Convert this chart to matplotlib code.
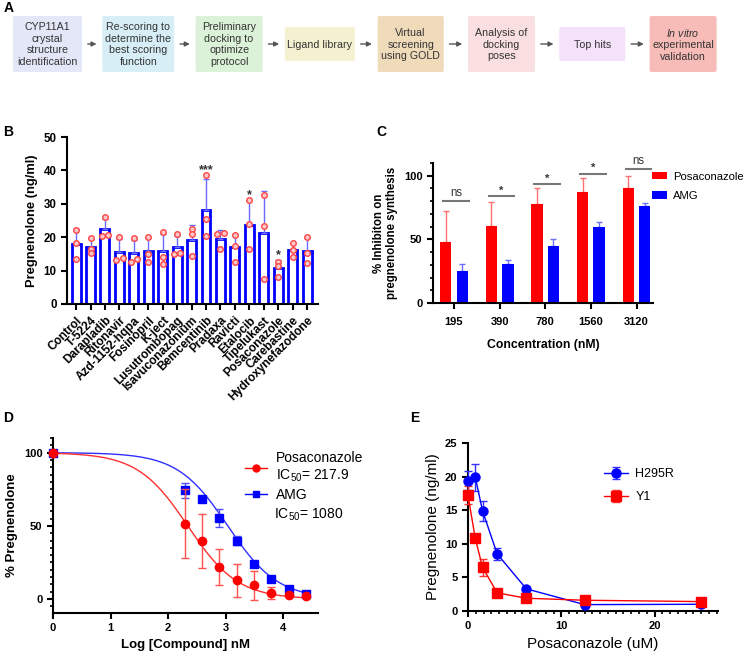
import matplotlib.pyplot as plt
import numpy as np
from matplotlib.patches import FancyBboxPatch
from matplotlib.ticker import MultipleLocator, AutoMinorLocator

plt.rcParams['font.family'] = ['Liberation Sans', 'DejaVu Sans']
plt.rcParams['mathtext.fontset'] = 'custom'
plt.rcParams['mathtext.rm'] = 'Liberation Sans'
plt.rcParams['mathtext.it'] = 'Liberation Sans:italic'

# ---- A: workflow
steps = ['CYP11A1\ncrystal\nstructure\nidentification',
         'Re-scoring to\ndetermine the\nbest scoring\nfunction',
         'Preliminary\ndocking to\noptimize\nprotocol',
         'Ligand library',
         'Virtual\nscreening\nusing GOLD',
         'Analysis of\ndocking\nposes',
         'Top hits',
         '$\\it{In\\ vitro}$\nexperimental\nvalidation']
step_colors = ['#e4e7f8', '#d8eef7', '#dcf2d8', '#f5f1d0',
               '#efdbb9', '#f9dfdf', '#f4e1fa', '#f8bcb8']

# ---- B: screening, replicate values (ng/ml)
drugs = ['Control', 'T-5224', 'Darapladib', 'Ritonavir', 'Azd-1152-hqpa',
         'Fosinopril', 'K-ject', 'Lusutrombopag', 'Isavuconazonium',
         'Bemcentinib', 'Pradaxa', 'Ravicti', 'Etalocib', 'Tipelukast',
         'Posaconazole', 'Carebastine', 'Hydroxynefazodone']
reps = [[22.2, 18.3, 13.4], [19.8, 16.5, 15.3], [26.0, 20.5, 20.7],
        [20.0, 13.2, 13.9], [19.7, 12.6, 13.4], [20.0, 14.9, 12.5],
        [21.6, 14.2, 12.1], [20.9, 15.1, 15.3], [22.4, 21.0, 14.4],
        [38.6, 25.4, 20.4], [21.0, 21.3, 16.5], [20.7, 17.5, 12.6],
        [31.0, 24.0, 16.4], [32.6, 23.5, 7.5], [12.7, 11.4, 8.2],
        [18.4, 16.2, 14.2], [20.0, 15.2, 12.2]]
sig_b = {'Bemcentinib': '***', 'Etalocib': '*', 'Posaconazole': '*'}

# ---- C: % inhibition
conc = ['195', '390', '780', '1560', '3120']
posa_inh = [48, 60.5, 78, 87.5, 90.5]
posa_inh_err = [24, 18.5, 12.5, 11, 9.5]
amg_inh = [25.5, 31, 44.5, 60, 76]
amg_inh_err = [5, 2.5, 6, 3.5, 2.5]
sig_c = ['ns', '*', '*', '*', 'ns']
sig_c_y = [80, 84, 93.5, 101.5, 105.5]

# ---- D: dose response
log_conc = [0, 2.29, 2.59, 2.89, 3.19, 3.49, 3.79, 4.09, 4.39]
posa_pct = [100, 51.6, 39.5, 22.0, 12.7, 9.3, 4.3, 2.7, 1.8]
posa_sd = [0, 23.5, 18.5, 12.5, 11.2, 9.6, 4.0, 0.8, 0.5]
amg_pct = [100, 74.3, 68.4, 55.5, 39.8, 24.3, 13.4, 6.8, 3.6]
amg_sd = [0, 5.0, 1.5, 6.2, 3.2, 2.0, 1.0, 0.8, 0.5]
posa_ic50 = 217.9
amg_ic50 = 1080
hill = 1.0

# ---- E: cell lines
posa_um = [0, 0.78, 1.56, 3.125, 6.25, 12.5, 25]
h295r = [19.4, 19.9, 14.9, 8.5, 3.3, 0.95, 1.0]
h295r_sd = [1.4, 2.0, 1.45, 0.9, 0.2, 0.1, 0.1]
y1 = [17.2, 10.8, 6.5, 2.7, 1.9, 1.6, 1.4]
y1_sd = [1.35, 0.3, 1.3, 0.2, 0.2, 0.1, 0.1]

W, H = 747, 663
fig = plt.figure(figsize=(W / 100, H / 100), dpi=100)

def px_axes(l, t, r, b):
    return fig.add_axes([l / W, 1 - b / H, (r - l) / W, (b - t) / H])

def style(ax, lw=1.5):
    for s in ['top', 'right']:
        ax.spines[s].set_visible(False)
    for s in ['left', 'bottom']:
        ax.spines[s].set_linewidth(lw)
    ax.tick_params(width=lw, length=4)
    ax.tick_params(which='minor', width=1.2, length=2.5)
    for t in ax.get_xticklabels() + ax.get_yticklabels():
        t.set_fontweight('bold')

# panel A (drawn in pixel coords)
axA = fig.add_axes([0, 0, 1, 1])
axA.set_xlim(0, W)
axA.set_ylim(H, 0)
axA.axis('off')
widths = [69, 72, 67, 70, 66, 67, 66, 67]
for i, (txt, c) in enumerate(zip(steps, step_colors)):
    cx = 47.5 + i * 90.8
    tall = txt.count('\n') > 0
    y0, y1b = (16, 72) if tall else (27, 61)
    w = widths[i]
    axA.add_patch(FancyBboxPatch((cx - w / 2 + 2, y0 + 2), w - 4, y1b - y0 - 4,
                                 boxstyle='round,pad=2', fc=c, ec='none'))
    axA.text(cx, (y0 + y1b) / 2 + 0.5, txt, ha='center', va='center', fontsize=7.7,
             color='#333333', linespacing=1.2)
    if i < len(steps) - 1:
        nx = 47.5 + (i + 1) * 90.8 - widths[i + 1] / 2
        axA.annotate('', xy=(nx - 3, 44), xytext=(cx + w / 2 + 3, 44),
                     arrowprops=dict(arrowstyle='-|>', color='#555555', lw=1,
                                     mutation_scale=7))
for lab, x, y in [('A', 4, 8), ('B', 3, 132), ('C', 376, 132),
                  ('D', 3, 418), ('E', 410, 418)]:
    axA.text(x, y, lab, fontsize=10, fontweight='bold', va='center')

# panel B
axB = px_axes(67, 137, 318, 304)
xb = np.arange(len(drugs))
means = np.array([np.mean(r) for r in reps])
sds = np.array([np.std(r, ddof=1) for r in reps])
axB.bar(xb, means, width=0.62, color='white', edgecolor='#0000ff', linewidth=2, zorder=2)
axB.errorbar(xb, means, yerr=[np.zeros(len(xb)), sds], fmt='none', ecolor='#6a6aff',
             elinewidth=1, capsize=2, capthick=1, zorder=3)
for i, r in enumerate(reps):
    offs = np.zeros(len(r))
    for a in range(len(r)):
        for b in range(a + 1, len(r)):
            if abs(r[a] - r[b]) < 1.0:
                offs[a], offs[b] = -0.23, 0.23
    axB.plot(xb[i] + offs, r, 'o', ms=4, mfc='#ffc8c8', mec='#ff4545', mew=1, zorder=4)
    if drugs[i] in sig_b:
        top = max(max(r), means[i] + sds[i])
        axB.text(xb[i], top + 1.5, sig_b[drugs[i]], ha='center', va='center',
                 fontsize=9, fontweight='bold', color='#333333')
axB.set_xlim(-0.63, len(drugs) - 0.24)
axB.set_ylim(0, 50)
axB.set_yticks([0, 10, 20, 30, 40, 50])
axB.set_xticks(xb)
axB.set_xticklabels(drugs, rotation=45, ha='right', rotation_mode='anchor', fontsize=8.6)
axB.tick_params(axis='y', labelsize=8.3)
axB.set_ylabel('Pregnenolone (ng/ml)', fontsize=9.3, fontweight='bold')
style(axB)

# panel C
axC = px_axes(433, 163, 653, 303)
xc = np.arange(len(conc))
axC.bar(xc - 0.18, posa_inh, width=0.25, color='#ff0000', label='Posaconazole', zorder=2)
axC.bar(xc + 0.18, amg_inh, width=0.25, color='#0000ff', label='AMG', zorder=2)
axC.errorbar(xc - 0.18, posa_inh, yerr=[np.zeros(5), posa_inh_err], fmt='none',
             ecolor='#ff7070', elinewidth=1, capsize=2.5, zorder=1)
axC.errorbar(xc + 0.18, amg_inh, yerr=[np.zeros(5), amg_inh_err], fmt='none',
             ecolor='#7070ff', elinewidth=1, capsize=2.5, zorder=1)
for i in range(len(conc)):
    axC.plot([xc[i] - 0.24, xc[i] + 0.32], [sig_c_y[i]] * 2, color='#777777', lw=1.5,
             clip_on=False)
    axC.text(xc[i] + 0.04, sig_c_y[i] + (1.5 if sig_c[i] == 'ns' else 0.5), sig_c[i],
             ha='center', va='bottom', fontsize=8.3 if sig_c[i] == 'ns' else 8,
             color='#333333', fontweight='normal' if sig_c[i] == 'ns' else 'bold')
axC.set_xlim(-0.46, 4.36)
axC.set_ylim(0, 110)
axC.set_yticks([0, 50, 100])
axC.yaxis.set_minor_locator(MultipleLocator(10))
axC.set_xticks(xc)
axC.set_xticklabels(conc, fontsize=8)
axC.tick_params(axis='x', length=0, pad=6)
axC.tick_params(axis='y', labelsize=8)
axC.set_ylabel('% Inhibiton on\npregnenolone synthesis', fontsize=8.3, fontweight='bold')
axC.set_xlabel('Concentration (nM)', fontsize=8.8, fontweight='bold', labelpad=9)
style(axC)
axC.legend(loc='upper left', bbox_to_anchor=(646 / W, 1 - 166 / H),
           bbox_transform=fig.transFigure, frameon=False, fontsize=8.1,
           handlelength=1.35, handleheight=0.65, handletextpad=0.55, borderpad=0,
           labelspacing=0.85)

# panel D
axD = px_axes(53, 438, 318, 613)
xs = np.linspace(0, 4.4, 200)
posa_fit = 100 / (1 + 10 ** ((xs - np.log10(posa_ic50)) * hill))
amg_fit = 100 / (1 + 10 ** ((xs - np.log10(amg_ic50)) * hill))
axD.plot(xs, amg_fit, color='#3030ff', lw=1)
axD.plot(xs, posa_fit, color='#ff3030', lw=1)
axD.errorbar(log_conc, amg_pct, yerr=amg_sd, fmt='s', color='#0000ff', ms=6,
             ecolor='#5050ff', elinewidth=1, capsize=3, clip_on=False, zorder=3)
axD.errorbar(log_conc, posa_pct, yerr=posa_sd, fmt='o', color='#ff0000', ms=6,
             ecolor='#ff5050', elinewidth=1, capsize=3, clip_on=False, zorder=4)
hp, = axD.plot([], [], '-o', color='#ff0000', ms=5, lw=1)
ha, = axD.plot([], [], '-s', color='#0000ff', ms=5, lw=1)
axD.legend([hp, ha], ['Posaconazole\nIC$_{50}$= 217.9', 'AMG'], loc='upper left',
           bbox_to_anchor=(238 / W, 1 - 444 / H), bbox_transform=fig.transFigure,
           frameon=False, fontsize=10, handlelength=1.6, handletextpad=0.6,
           borderpad=0, labelspacing=0.3)
axD.text(274 / W, 1 - 515 / H, 'IC$_{50}$= 1080', transform=fig.transFigure,
         fontsize=10, va='center')
axD.set_xlim(0, 4.6)
axD.set_ylim(-9.5, 110)
axD.set_xticks([0, 1, 2, 3, 4])
axD.set_yticks([0, 50, 100])
axD.yaxis.set_minor_locator(MultipleLocator(5))
axD.tick_params(labelsize=8)
axD.set_xlabel('Log [Compound] nM', fontsize=9.5, fontweight='bold')
axD.set_ylabel('% Pregnenolone', fontsize=9.5, fontweight='bold')
style(axD)

# panel E
axE = px_axes(468, 443, 718, 611)
axE.errorbar(posa_um, h295r, yerr=h295r_sd, fmt='-o', color='#0000ff', ms=6.5, lw=1,
             ecolor='#3030ff', capsize=3, clip_on=False, zorder=3, label='H295R')
axE.errorbar(posa_um, y1, yerr=y1_sd, fmt='-s', color='#ff0000', ms=6.5, lw=1,
             ecolor='#ff3030', capsize=3, clip_on=False, zorder=3, label='Y1')
axE.legend(loc='upper left', bbox_to_anchor=(598 / W, 1 - 462 / H),
           bbox_transform=fig.transFigure, frameon=False, fontsize=9,
           handlelength=1.9, handletextpad=0.6, borderpad=0, labelspacing=0.9)
axE.set_xlim(0, 26.8)
axE.set_ylim(0, 25)
axE.set_xticks([0, 10, 20])
axE.xaxis.set_minor_locator(AutoMinorLocator(12))
axE.set_yticks([0, 5, 10, 15, 20, 25])
axE.tick_params(labelsize=8)
axE.set_xlabel('Posaconazole (uM)', fontsize=11)
axE.set_ylabel('Pregnenolone (ng/ml)', fontsize=11)
style(axE)

fig.savefig('out.png', dpi=100)
